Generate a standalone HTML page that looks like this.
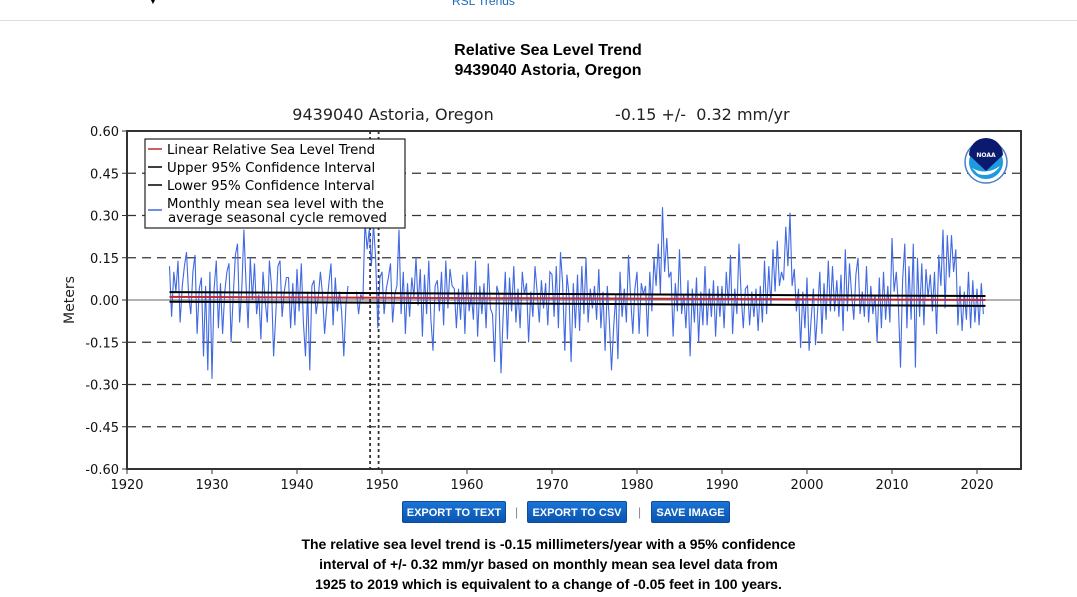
<!DOCTYPE html>
<html><head><meta charset="utf-8"><style>
body{margin:0;width:1077px;height:597px;background:#fff;font-family:"Liberation Sans",sans-serif;position:relative;overflow:hidden}
.t{position:absolute;white-space:nowrap}
.btn{position:absolute;top:501px;height:22px;background:linear-gradient(#1a74d6,#0a55b0);color:#fff;font:bold 11px "Liberation Sans",sans-serif;line-height:22px;text-align:center;border-radius:2px;border:1px solid #0b4d9a;box-sizing:border-box}
.sep{position:absolute;top:505px;color:#888;font-size:12px}
</style></head><body>
<div style="position:absolute;left:0;top:0;width:1077px;height:20px;border-bottom:1px solid #ddd"></div>
<div class="t" style="left:148px;top:-4px;font-size:10px">▼</div>
<div class="t" style="left:452px;top:-6px;font-size:12px;color:#1a6cb8">RSL Trends</div>
<div class="t" style="left:0;width:1096px;text-align:center;top:41px;font:bold 16px 'Liberation Sans',sans-serif;line-height:20px">Relative Sea Level Trend<br>9439040 Astoria, Oregon</div>
<svg width="1077" height="597" style="position:absolute;left:0;top:0" id="chart" font-family="DejaVu Sans, sans-serif"></svg>
<div class="btn" style="left:402px;width:104px">EXPORT TO TEXT</div>
<div class="sep" style="left:515px">|</div>
<div class="btn" style="left:527px;width:100px">EXPORT TO CSV</div>
<div class="sep" style="left:638px">|</div>
<div class="btn" style="left:651px;width:79px">SAVE IMAGE</div>
<div class="t" style="left:0;width:1097px;text-align:center;top:534px;font:bold 14px 'Liberation Sans',sans-serif;line-height:20px">The relative sea level trend is -0.15 millimeters/year with a 95% confidence<br>interval of +/- 0.32 mm/yr based on monthly mean sea level data from<br>1925 to 2019 which is equivalent to a change of -0.05 feet in 100 years.</div>
<script>
const startYear = 1925;
const perYear = 4;
const values = [
0.12,-0.06,0.10,0.03, 0.14,-0.08,0.05,0.12, 0.17,0.02,-0.05,0.10, 0.16,-0.12,0.04,0.08,
-0.20,0.05,-0.25,0.10, -0.28,0.04,0.14,-0.10, 0.06,-0.12,0.03,0.10, 0.13,-0.15,0.02,0.16,
0.20,-0.08,0.04,0.25, 0.06,-0.10,0.15,0.00, 0.13,-0.05,0.02,-0.14, 0.10,0.00,-0.08,0.14,
0.05,-0.20,-0.05,0.12, 0.14,-0.06,0.03,0.08, 0.08,-0.10,0.06,-0.09, 0.11,-0.04,0.13,-0.08,
-0.20,0.03,-0.25,0.05, 0.07,-0.05,0.01,0.10, 0.02,-0.12,-0.02,0.06, 0.13,-0.09,0.08,-0.04,
0.03,-0.04,-0.20,-0.02, 0.05,null,null,null, 0.03,-0.05,0.02,0.00, 0.28,0.18,0.25,0.12,
0.27,0.15,-0.10,0.08, 0.10,-0.05,0.04,0.08, 0.13,-0.08,0.02,0.05, 0.25,-0.05,0.10,-0.12,
0.06,-0.06,0.08,0.01, 0.15,-0.02,0.11,-0.13, 0.09,-0.05,0.14,-0.07, -0.18,0.05,0.07,-0.04,
0.10,-0.09,0.14,-0.03, 0.11,0.05,0.04,-0.10, 0.04,-0.07,0.09,-0.12, 0.10,-0.04,0.02,-0.07,
0.14,-0.13,0.05,-0.05, 0.06,-0.10,0.13,-0.03, -0.05,-0.22,0.05,0.02, -0.26,-0.06,0.10,-0.14,
0.08,-0.04,0.12,-0.08, 0.04,-0.10,0.10,0.02, 0.06,-0.15,0.03,-0.06, 0.12,0.03,-0.08,0.07,
-0.03,0.06,-0.09,0.10, 0.09,-0.06,0.12,-0.10, 0.17,0.06,-0.18,0.09, 0.02,-0.22,0.06,-0.10,
0.09,-0.11,0.12,-0.05, 0.15,-0.08,0.04,-0.03, 0.05,-0.07,0.11,-0.10, 0.03,-0.18,0.05,-0.08,
-0.25,-0.10,0.02,-0.21, 0.10,-0.06,0.04,-0.08, 0.16,0.01,-0.12,0.04, 0.10,-0.12,0.06,0.02,
0.05,-0.13,0.10,-0.04, 0.15,0.05,0.20,0.02, 0.33,0.10,0.22,0.08, 0.10,-0.13,0.06,-0.04,
0.18,-0.05,0.02,-0.10, 0.07,-0.20,0.04,-0.08, 0.08,-0.15,0.03,-0.09, 0.12,-0.09,0.04,-0.06,
0.07,-0.13,0.05,-0.06, 0.05,-0.10,0.10,-0.02, 0.16,-0.12,0.04,-0.05, 0.20,0.02,-0.10,0.04,
0.05,-0.09,0.03,-0.06, 0.04,-0.11,0.05,-0.08, 0.14,-0.05,0.12,-0.02, 0.18,0.03,0.21,0.05,
0.10,0.07,0.26,0.12, 0.31,0.05,0.11,-0.04, 0.04,-0.17,0.03,-0.10, 0.08,-0.18,-0.06,0.04,
-0.16,-0.04,0.10,-0.12, 0.06,-0.07,0.14,-0.04, 0.12,-0.04,0.07,-0.06, 0.09,-0.11,0.18,-0.04,
0.13,0.02,-0.07,0.09, 0.15,-0.05,0.03,-0.06, 0.12,-0.08,0.05,-0.05, 0.02,-0.15,0.08,-0.10,
0.10,-0.07,0.05,-0.08, 0.22,0.03,0.10,-0.02, -0.24,0.07,0.20,-0.10, 0.12,-0.07,0.20,-0.24,
0.15,-0.06,0.13,-0.09, 0.11,0.01,0.09,-0.04, 0.10,-0.12,0.16,0.05, 0.25,-0.03,0.23,0.08,
0.23,0.10,0.18,-0.09, 0.05,-0.11,0.03,-0.07, 0.10,-0.10,0.07,-0.08, 0.04,-0.09,0.06,-0.05
];
const trendYears = [1925, 2021];
const trendVals = [0.011, 0.000];
const upperVals = [0.028, 0.014];
const lowerVals = [-0.006, -0.021];
const xTicks = [1920,1930,1940,1950,1960,1970,1980,1990,2000,2010,2020];
const yTicks = [0.60,0.45,0.30,0.15,0.00,-0.15,-0.30,-0.45,-0.60];
const legendItems = ["Linear Relative Sea Level Trend","Upper 95% Confidence Interval","Lower 95% Confidence Interval"];

const svg = document.getElementById('chart');
const NS = 'http://www.w3.org/2000/svg';
const L=127,R=1021,T=131,B=469;
const x = yr => 127 + (yr-1920)*8.5;
const y = v => 300 - v*(B-T)/1.2;
function mk(tag, attrs, parent){const e=document.createElementNS(NS,tag);for(const k in attrs)e.setAttribute(k,attrs[k]);(parent||svg).appendChild(e);return e;}

let e = mk('rect',{x:L,y:T,width:R-L,height:B-T,fill:'#fff',stroke:'none'});



yTicks.forEach(v=>{
  if (Math.abs(v)<1e-9 || Math.abs(v)>0.59) return;
  const g = mk('line',{x1:L,x2:R,y1:y(v),y2:y(v),stroke:'#333','stroke-dasharray':'9,6','stroke-width':1.2});
  
  
});
e = mk('line',{x1:L,x2:R,y1:y(0),y2:y(0),stroke:'#999','stroke-width':1.5});


[1948.6,1949.6].forEach(yr=>{
  const d = mk('line',{x1:x(yr),x2:x(yr),y1:T,y2:B,stroke:'#333','stroke-dasharray':'3,3','stroke-width':1.8});
  
  
});

let dstr='', pen=false;
values.forEach((v,i)=>{
  if (v===null){pen=false;return;}
  const px = x(startYear + i/perYear), py = y(v);
  dstr += (pen?'L':'M') + px.toFixed(1) + ',' + py.toFixed(1);
  pen=true;
});
e = mk('path',{d:dstr,fill:'none',stroke:'#4169e1','stroke-width':1.1});



[[upperVals,'#000','upper-confidence-line'],[lowerVals,'#000','lower-confidence-line'],[trendVals,'#c0282d','linear-trend-line']].forEach(([vals,col,name])=>{
  const l = mk('line',{x1:x(trendYears[0]),x2:x(trendYears[1]),y1:y(vals[0]),y2:y(vals[1]),stroke:col,'stroke-width':2});
  
  
});

e = mk('rect',{x:L,y:T,width:R-L,height:B-T,fill:'none',stroke:'#333','stroke-width':2});



xTicks.forEach(yr=>{
  mk('line',{x1:x(yr),x2:x(yr),y1:B,y2:B+5,stroke:'#333'});
  const t = mk('text',{x:x(yr),y:B+20,'text-anchor':'middle','font-size':13,fill:'#111'});
  t.textContent = yr;
  
  
});
yTicks.forEach(v=>{
  mk('line',{x1:L-5,x2:L,y1:y(v),y2:y(v),stroke:'#333'});
  const t = mk('text',{x:L-8,y:y(v)+5,'text-anchor':'end','font-size':13,fill:'#111'});
  t.textContent = v.toFixed(2);
  
  
});
e = mk('text',{x:74,y:300,'text-anchor':'middle','font-size':14,fill:'#222',transform:'rotate(-90 74 300)'});
e.textContent='Meters';


e = mk('text',{x:393,y:120,'text-anchor':'middle','font-size':16,fill:'#222'});
e.textContent='9439040 Astoria, Oregon';


e = mk('text',{x:615,y:120,'font-size':16,fill:'#222'});
e.textContent='-0.15 +/-\u00a0 0.32 mm/yr';



const lg = mk('g',{});


mk('rect',{x:145,y:139,width:260,height:89,fill:'#fff',stroke:'#222','stroke-width':1.2},lg);
const cols=['#c0282d','#000','#000'];
legendItems.forEach((s,i)=>{
  const yy = 149 + i*18;
  mk('line',{x1:148,x2:162,y1:yy,y2:yy,stroke:cols[i],'stroke-width':1.5},lg);
  const t = mk('text',{x:167,y:yy+5,'font-size':13.3,fill:'#000'},lg);
  t.textContent = s;
  
  
});
mk('line',{x1:148,x2:162,y1:210,y2:210,stroke:'#4169e1','stroke-width':1.5},lg);
e = mk('text',{x:167,y:208,'font-size':13.3,fill:'#000'},lg);
e.textContent='Monthly mean sea level with the';


e = mk('text',{x:168,y:222,'font-size':13.3,fill:'#000'},lg);
e.textContent='average seasonal cycle removed';



const logo = mk('g',{});


mk('circle',{cx:986,cy:162,r:21,fill:'#fff',stroke:'#4a7fc8','stroke-width':1.5},logo);
mk('circle',{cx:986,cy:162,r:17,fill:'#1e9ae0'},logo);
mk('path',{d:'M969,155 A17,17 0 0 1 1003,155 L986,171 Z',fill:'#0b1a6e'},logo);
mk('path',{d:'M972,168 Q986,176 1000,166 Q992,178 978,174 Z',fill:'#fff'},logo);
e = mk('text',{x:986,y:157,'text-anchor':'middle','font-size':6,fill:'#fff','font-weight':'bold'},logo);
e.textContent='NOAA';
</script>
</body></html>
